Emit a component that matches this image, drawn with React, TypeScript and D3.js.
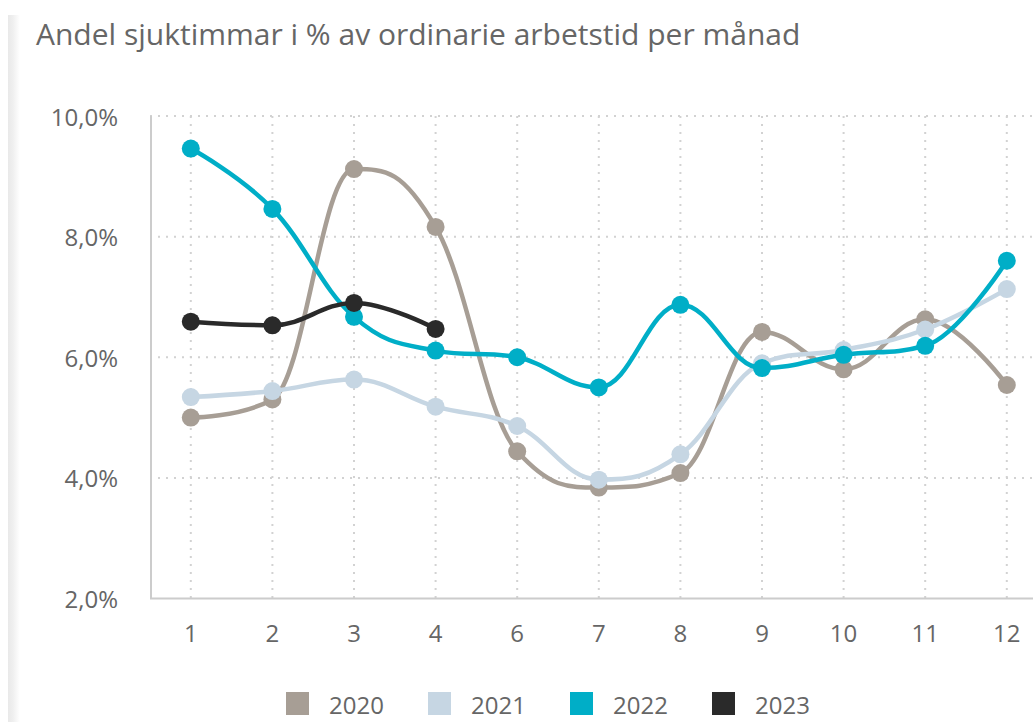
import React from "react";
import * as d3 from "d3";

const months = ["1", "2", "3", "4", "6", "7", "8", "9", "10", "11", "12"];
const s2020 = [5.0, 5.3, 9.12, 8.16, 4.44, 3.84, 4.08, 6.42, 5.8, 6.63, 5.54];
const s2021 = [5.34, 5.44, 5.63, 5.18, 4.86, 3.97, 4.39, 5.9, 6.12, 6.46, 7.13];
const s2022 = [9.46, 8.46, 6.67, 6.11, 6.0, 5.5, 6.87, 5.82, 6.04, 6.19, 7.6];
const s2023 = [6.59, 6.53, 6.9, 6.47];
const yTicks = [2, 4, 6, 8, 10];
const seriesNames = ["2020", "2021", "2022", "2023"];
const seriesColors = ["#a79e95", "#c6d6e3", "#00aec7", "#2a2a2a"];
const title = "Andel sjuktimmar i % av ordinarie arbetstid per månad";

const W = 1033;
const H = 722;
const left = 150;
const right = 1047.6;
const top = 116;
const bottom = 598.5;

// Highcharts-style spline
function splinePath(pts: [number, number][]): string {
  const p = d3.path();
  const smoothing = 1.5;
  const denom = smoothing + 1;
  const rc: ({ x: number; y: number } | null)[] = pts.map(() => null);
  pts.forEach((pt, i) => {
    const [px, py] = pt;
    if (i === 0) {
      p.moveTo(px, py);
      return;
    }
    const last = pts[i - 1];
    const next = pts[i + 1];
    let lcx: number | null = null;
    let lcy: number | null = null;
    if (next) {
      const [lx, ly] = last;
      const [nx, ny] = next;
      lcx = (smoothing * px + lx) / denom;
      lcy = (smoothing * py + ly) / denom;
      const rcx = (smoothing * px + nx) / denom;
      let rcy = (smoothing * py + ny) / denom;
      let correction = 0;
      if (rcx !== lcx) {
        correction = ((rcy - lcy) * (rcx - px)) / (rcx - lcx) + py - rcy;
      }
      lcy += correction;
      rcy += correction;
      if (lcy > ly && lcy > py) {
        lcy = Math.max(ly, py);
        rcy = 2 * py - lcy;
      } else if (lcy < ly && lcy < py) {
        lcy = Math.min(ly, py);
        rcy = 2 * py - lcy;
      }
      if (rcy > ny && rcy > py) {
        rcy = Math.max(ny, py);
        lcy = 2 * py - rcy;
      } else if (rcy < ny && rcy < py) {
        rcy = Math.min(ny, py);
        lcy = 2 * py - rcy;
      }
      rc[i] = { x: rcx, y: rcy };
    }
    const prc = rc[i - 1];
    p.bezierCurveTo(
      prc ? prc.x : last[0],
      prc ? prc.y : last[1],
      lcx !== null ? lcx : px,
      lcy !== null ? lcy : py,
      px,
      py
    );
  });
  return p.toString();
}

export default function App() {
  const x = d3.scalePoint<string>().domain(months).range([left, right]).padding(0.5);
  const y = d3.scaleLinear().domain([2, 10]).range([bottom, top]);
  const allSeries = [s2020, s2021, s2022, s2023];
  const font = "'Open Sans', sans-serif";
  const textColor = "#666666";

  return (
    <div style={{ position: "absolute", left: 0, top: 0, width: W, height: H, background: "#fff" }}>
      <svg width={W} height={H} style={{ display: "block" }}>
        <defs>
          <linearGradient id="edge" x1="0" x2="1" y1="0" y2="0">
            <stop offset="0" stopColor="#e9e9e9" />
            <stop offset="0.4" stopColor="#efefef" />
            <stop offset="1" stopColor="#ffffff" />
          </linearGradient>
        </defs>
        <rect x={8} y={15} width={12} height={H - 15} fill="url(#edge)" />
        <text x={36} y={45} fontFamily={font} fontSize={30} fill={textColor}>
          {title}
        </text>
        {/* horizontal grid */}
        {yTicks.filter((t) => t !== 2).map((t) => (
          <line
            key={"h" + t}
            x1={left}
            x2={W}
            y1={y(t)}
            y2={y(t)}
            stroke="#d2d2d2"
            strokeWidth={2}
            strokeDasharray="2,6"
          />
        ))}
        {/* vertical grid */}
        {months.map((m) => (
          <line
            key={"v" + m}
            x1={x(m)!}
            x2={x(m)!}
            y1={top}
            y2={bottom}
            stroke="#d2d2d2"
            strokeWidth={2}
            strokeDasharray="2,6"
          />
        ))}
        {/* axes */}
        <line x1={left + 1} x2={left + 1} y1={top} y2={bottom} stroke="#cccccc" strokeWidth={2} />
        <line x1={left} x2={W} y1={bottom} y2={bottom} stroke="#cccccc" strokeWidth={2} />
        {yTicks.map((t) => (
          <text
            key={"yl" + t}
            x={118}
            y={y(t)}
            textAnchor="end"
            dominantBaseline="central"
            fontFamily={font}
            fontSize={24}
            fill={textColor}
          >
            {d3.format(".1f")(t).replace(".", ",") + "%"}
          </text>
        ))}
        {months.map((m) => (
          <text
            key={"xl" + m}
            x={x(m)!}
            y={632}
            textAnchor="middle"
            dominantBaseline="central"
            fontFamily={font}
            fontSize={24}
            fill={textColor}
          >
            {m}
          </text>
        ))}
        {/* series */}
        {allSeries.map((s, si) => {
          const pts: [number, number][] = s.map((v, i) => [x(months[i])!, y(v)]);
          return (
            <g key={"s" + si}>
              <path d={splinePath(pts)} fill="none" stroke={seriesColors[si]} strokeWidth={4.5} strokeLinecap="round" strokeLinejoin="round" />
              {pts.map((pt, i) => (
                <circle key={i} cx={pt[0]} cy={pt[1]} r={9} fill={seriesColors[si]} />
              ))}
            </g>
          );
        })}
        {/* legend */}
        {seriesNames.map((n, i) => {
          const lx = 286 + i * 142;
          return (
            <g key={"lg" + n}>
              <rect x={lx} y={692} width={23} height={23} fill={seriesColors[i]} />
              <text
                x={lx + 43}
                y={704}
                dominantBaseline="central"
                fontFamily={font}
                fontSize={24}
                fill={textColor}
              >
                {n}
              </text>
            </g>
          );
        })}
      </svg>
    </div>
  );
}
